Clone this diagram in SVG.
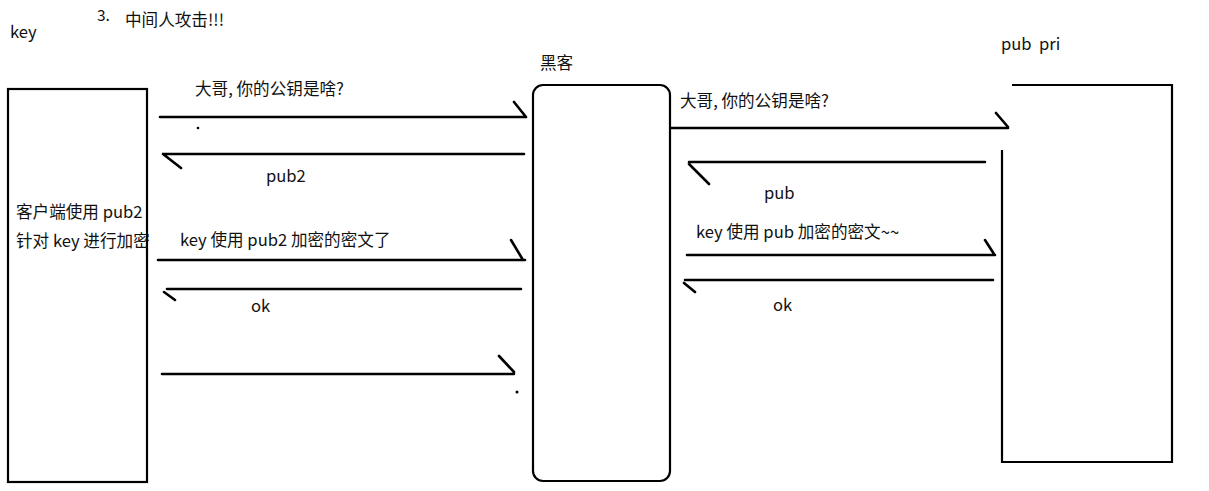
<svg xmlns="http://www.w3.org/2000/svg" width="1209" height="491" viewBox="0 0 1209 491">
<style>
text{font-family:"Noto Sans CJK SC","Noto Sans",sans-serif;font-size:16.6px;fill:#111;white-space:pre}
.box{fill:none;stroke:#000;stroke-width:2.2}
.ln{fill:none;stroke:#000;stroke-width:2.6;stroke-linecap:round}
.sm{font-size:15.5px}
</style>
<rect width="1209" height="491" fill="#fff"/>
<g id="title">
<text x="97" y="21" class="sm">3.</text>
<text x="125" y="26">中间人攻击!!!</text>
</g>
<g id="client">
<text x="10" y="38">key</text>
<rect class="box" x="8" y="89" width="139" height="393"/>
<text x="16" y="218">客户端使用 pub2</text>
<text x="16" y="247">针对 key 进行加密</text>
</g>
<g id="hacker">
<text x="540" y="69">黑客</text>
<rect class="box" x="533" y="85" width="137" height="396" rx="10"/>
</g>
<g id="server">
<text x="1001" y="50" xml:space="preserve">pub  pri</text>
<path class="box" d="M1012 85H1172V462H1002V150"/>
</g>
<g id="connectors">
<path class="ln" d="M160 117H526M514 102L526 117"/>
<circle cx="198" cy="128" r="1.3"/>
<path class="ln" d="M163 154H524M163 154L181 168"/>
<path class="ln" d="M158 260H525M511 240L523 260"/>
<path class="ln" d="M167 289H521M164 292L175 300"/>
<path class="ln" d="M162 374H514M499 356L514 372"/>
<circle cx="517" cy="392" r="1.5"/>
<path class="ln" d="M671 128H1008M996 113L1008 127"/>
<path class="ln" d="M689 162H985M689 164L709 184"/>
<path class="ln" d="M687 255H995M985 240L994 254"/>
<path class="ln" d="M685 280H993M684 283L695 292"/>
</g>
<g id="labels">
<text x="195" y="95">大哥, 你的公钥是啥?</text>
<text x="266" y="182">pub2</text>
<text x="180" y="246">key 使用 pub2 加密的密文了</text>
<text x="251" y="312">ok</text>
<text x="680" y="107">大哥, 你的公钥是啥?</text>
<text x="764" y="199">pub</text>
<text x="696" y="238">key 使用 pub 加密的密文~~</text>
<text x="773" y="311">ok</text>
</g>
</svg>
